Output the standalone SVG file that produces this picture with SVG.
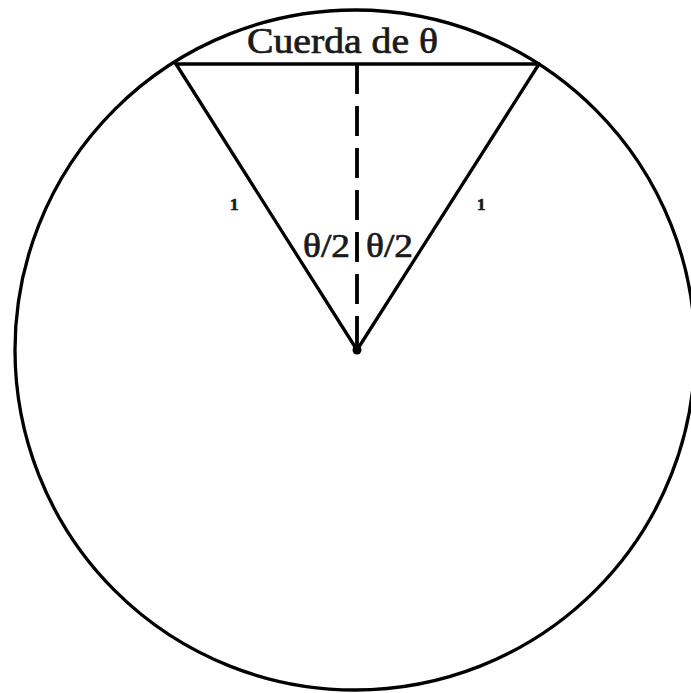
<svg xmlns="http://www.w3.org/2000/svg" width="691" height="693" viewBox="0 0 691 693">
<style>
.ln{stroke:#000;stroke-width:3.3;fill:none;stroke-linecap:round}
.t{font-family:"Liberation Serif","Times New Roman",serif;fill:#1a1a1a;stroke:#1a1a1a;stroke-width:0.7}
</style>
<rect width="691" height="693" fill="#fff"/>
<g id="circle"><circle class="ln" cx="355" cy="350" r="340"/></g>
<g id="connectors">
<line class="ln" x1="176" y1="64" x2="539" y2="64"/>
<line class="ln" x1="176" y1="64" x2="357" y2="350"/>
<line class="ln" x1="539" y1="64" x2="357" y2="350"/>
<line x1="357" y1="64" x2="357" y2="350" stroke="#000" stroke-width="3.8" stroke-dasharray="30 12"/>
</g>
<g id="center"><circle cx="357" cy="350" r="4.5" fill="#000"/></g>
<g id="labels">
<text class="t" x="247" y="53" font-size="35" textLength="191" lengthAdjust="spacingAndGlyphs">Cuerda de θ</text>
<text class="t" x="303" y="257" font-size="33" textLength="47" lengthAdjust="spacingAndGlyphs">θ/2</text>
<text class="t" x="366" y="257" font-size="33" textLength="47" lengthAdjust="spacingAndGlyphs">θ/2</text>
<text class="t" x="230" y="210" font-size="17" font-weight="bold">1</text>
<text class="t" x="477" y="210" font-size="17" font-weight="bold">1</text>
</g>
</svg>
